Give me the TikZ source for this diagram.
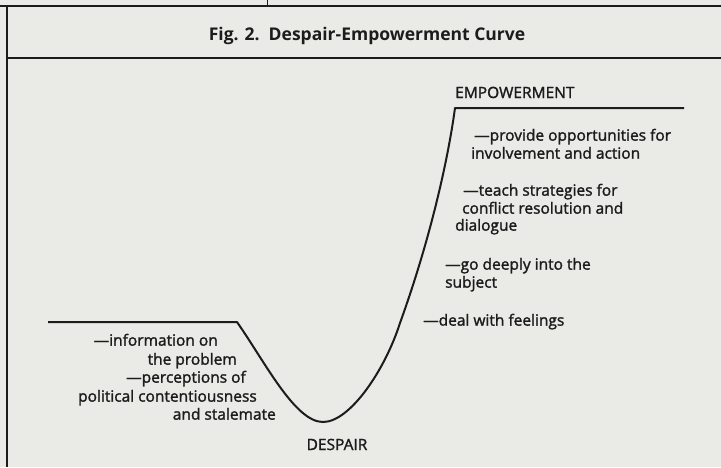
\documentclass[tikz,border=0pt]{standalone}
\usepackage{fontspec}
\setmainfont{Open Sans}
\newfontface\inkface{Open Sans}[Ligatures=TeX,FakeBold=1.6]
\usepackage{tikz}
\definecolor{Paper}{RGB}{234,234,231}
\definecolor{Ink}{RGB}{28,28,28}

\begin{document}
\begin{tikzpicture}[x=1pt,y=-1pt,
  every node/.style={inner sep=0pt,text=Ink,font=\inkface\fontsize{15.5}{18}\selectfont},
  rule/.style={Ink,line width=1.4pt},
  curve/.style={Ink,line width=2pt,line join=round}]
% Paper
\fill [Paper] (0,0) rectangle (721,467);
\useasboundingbox (0,0) rectangle (721,467);
% Frame
\draw [rule] (0,6) -- (721,6);
\draw [rule] (7,6) -- (7,467);
\draw [rule] (7,58) -- (721,58);
\draw [Ink,line width=1pt] (267,0) -- (267,6);
% Title
\node (title) at (367,40) [anchor=base,font=\bfseries\fontsize{17.5}{20}\selectfont] {Fig. 2.\ \ Despair-Empowerment Curve};
% Curve
\coordinate (lstart) at (48,322);
\coordinate (ldrop) at (237,322);
\coordinate (bottom) at (323,422);
\coordinate (rise) at (400,323);
\coordinate (top) at (455,108);
\coordinate (rend) at (684,108);
\draw [curve] (lstart) -- (ldrop) .. controls (265,362) and (295,422) .. (bottom)
  .. controls (350,422) and (385,370) .. (rise)
  .. controls (430,240) and (448,160) .. (top) -- (rend);
% Labels
\node (empower) at (455,98) [anchor=base west] {EMPOWERMENT};
\node (despair) at (337,450) [anchor=base] {DESPAIR};
% Left side
\node (info1) at (218,343) [anchor=mid east] {---information on};
\node (info2) at (237,362) [anchor=mid east] {the problem};
\node (perc1) at (246,380) [anchor=mid east] {---perceptions of};
\node (perc2) at (257,399) [anchor=mid east] {political contentiousness};
\node (perc3) at (276,417) [anchor=mid east] {and stalemate};
% Right side
\node (prov1) at (474,138) [anchor=mid west] {---provide opportunities for};
\node (prov2) at (471,156) [anchor=mid west] {involvement and action};
\node (teach1) at (463,193) [anchor=mid west] {---teach strategies for};
\node (teach2) at (462,211) [anchor=mid west] {conflict resolution and};
\node (teach3) at (455,228) [anchor=mid west] {dialogue};
\node (deep1) at (445,267) [anchor=mid west] {---go deeply into the};
\node (deep2) at (445,285) [anchor=mid west] {subject};
\node (feel) at (423,323) [anchor=mid west] {---deal with feelings};
\end{tikzpicture}
\end{document}
